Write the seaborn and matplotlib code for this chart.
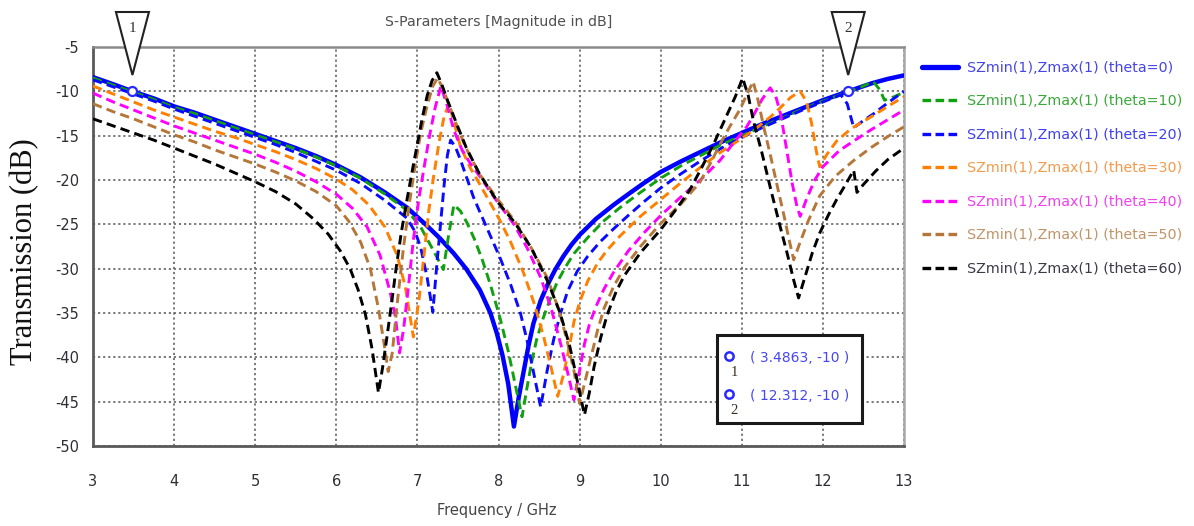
import matplotlib
matplotlib.use("Agg")
import matplotlib.pyplot as plt
import pandas as pd
import seaborn as sns
from matplotlib.patches import Polygon, Rectangle
from matplotlib.lines import Line2D

# ---------------- data: |S21| (dB) versus frequency (GHz) ----------------
thetas = [0, 10, 20, 30, 40, 50, 60]

freq_t0 = [3.0, 3.25, 3.4863, 3.75, 4.0, 4.25, 4.5, 4.75, 5.0, 5.25, 5.5, 5.75, 6.0, 6.3, 6.6, 6.87,
           7.1, 7.28, 7.45, 7.6, 7.77, 7.9, 7.98, 8.05, 8.12, 8.19, 8.25, 8.31, 8.37, 8.43, 8.52,
           8.6, 8.7, 8.8, 8.9, 9.0, 9.2, 9.42, 9.6, 9.8, 10.0, 10.25, 10.5, 10.75, 11.0, 11.25,
           11.5, 11.75, 12.0, 12.312, 12.6, 12.8, 13.0]
db_t0 = [-8.4, -9.2, -10.0, -10.8, -11.7, -12.4, -13.2, -14.0, -14.8, -15.6, -16.4, -17.3, -18.3,
         -19.7, -21.4, -23.1, -25.0, -26.6, -28.3, -30.0, -32.4, -35.0, -37.3, -39.8, -43.0, -47.8,
         -44.5, -41.6, -38.7, -36.2, -33.6, -31.9, -30.1, -28.6, -27.3, -26.2, -24.4, -22.8, -21.6,
         -20.3, -19.1, -17.9, -16.8, -15.7, -14.7, -13.7, -12.8, -11.9, -11.0, -10.0, -9.1, -8.6,
         -8.2]

freq_t10 = [3.0, 3.25, 3.5, 3.75, 4.0, 4.25, 4.5, 4.75, 5.0, 5.25, 5.5, 5.75, 6.0, 6.3, 6.6, 6.87,
            7.04, 7.2, 7.32, 7.38, 7.45, 7.53, 7.61, 7.7, 7.8, 7.9, 8.02, 8.12, 8.2, 8.29, 8.35,
            8.41, 8.47, 8.55, 8.63, 8.72, 8.82, 8.93, 9.1, 9.3, 9.5, 9.75, 10.0, 10.25, 10.5, 10.75,
            11.0, 11.25, 11.5, 11.75, 12.0, 12.3, 12.5, 12.62, 12.7, 12.76, 12.88, 13.0]
db_t10 = [-8.5, -9.3, -10.1, -10.9, -11.8, -12.5, -13.3, -14.1, -14.9, -15.7, -16.5, -17.4, -18.4,
          -19.8, -21.6, -23.4, -25.3, -28.0, -30.1, -26.5, -22.8, -23.5, -24.8, -26.6, -29.0, -31.8,
          -35.6, -39.3, -42.8, -46.7, -43.5, -40.5, -38.0, -35.6, -33.6, -31.6, -29.9, -28.3, -26.5,
          -24.6, -23.1, -21.4, -19.8, -18.4, -17.2, -16.0, -15.0, -14.0, -13.0, -12.0, -11.1, -10.1,
          -9.4, -8.9, -9.8, -11.0, -10.6, -10.1]

freq_t20 = [3.0, 3.25, 3.5, 3.75, 4.0, 4.25, 4.5, 4.75, 5.0, 5.25, 5.5, 5.75, 6.0, 6.3, 6.6, 6.87,
            6.97, 7.04, 7.12, 7.19, 7.24, 7.28, 7.33, 7.37, 7.41, 7.47, 7.53, 7.61, 7.69, 7.77, 7.9,
            8.02, 8.15, 8.27, 8.35, 8.43, 8.52, 8.6, 8.68, 8.76, 8.85, 8.97, 9.1, 9.25, 9.42, 9.6,
            9.8, 10.0, 10.25, 10.5, 10.75, 11.0, 11.25, 11.5, 11.75, 12.0, 12.22, 12.3, 12.38, 12.5,
            12.63, 12.8, 13.0]
db_t20 = [-8.7, -9.5, -10.3, -11.1, -12.0, -12.8, -13.6, -14.4, -15.2, -16.0, -16.9, -17.9, -18.9,
          -20.4, -22.3, -24.3, -25.8, -27.6, -31.0, -34.9, -29.5, -25.5, -20.5, -17.2, -15.5, -16.3,
          -17.7, -19.8, -21.9, -23.6, -26.3, -28.8, -31.8, -35.0, -38.0, -41.6, -45.6, -41.5, -38.0,
          -35.2, -32.6, -30.3, -28.6, -27.0, -25.5, -24.0, -22.4, -20.9, -19.3, -17.8, -16.4, -15.2,
          -14.1, -13.1, -12.1, -11.2, -10.4, -11.4, -14.1, -13.3, -12.5, -11.3, -10.0]

freq_t30 = [3.0, 3.25, 3.5, 3.75, 4.0, 4.25, 4.5, 4.75, 5.0, 5.25, 5.5, 5.75, 6.0, 6.2, 6.4, 6.6,
            6.75, 6.85, 6.95, 7.02, 7.08, 7.14, 7.2, 7.27, 7.33, 7.39, 7.46, 7.53, 7.65, 7.77, 7.9,
            8.02, 8.15, 8.31, 8.45, 8.56, 8.65, 8.73, 8.8, 8.87, 8.93, 9.0, 9.1, 9.22, 9.34, 9.5,
            9.75, 10.0, 10.25, 10.5, 10.75, 11.0, 11.2, 11.35, 11.47, 11.6, 11.72, 11.8, 11.86,
            11.92, 11.96, 12.05, 12.17, 12.35, 12.59, 12.8, 13.0]
db_t30 = [-9.4, -10.3, -11.2, -12.1, -12.9, -13.7, -14.5, -15.2, -16.0, -16.8, -17.7, -18.7, -19.9,
          -21.1, -22.8, -25.3, -28.5, -32.0, -37.7, -33.5, -28.6, -23.5, -19.6, -15.6, -12.8, -11.4,
          -13.8, -16.2, -18.6, -20.5, -22.6, -24.6, -27.0, -30.5, -34.2, -37.8, -41.2, -44.4, -42.0,
          -39.0, -36.0, -33.8, -31.4, -29.4, -27.9, -26.3, -24.1, -22.2, -20.3, -18.5, -16.8, -15.3,
          -14.0, -12.9, -11.9, -10.7, -10.0, -11.2, -13.6, -16.8, -18.5, -17.1, -15.6, -14.2, -12.9,
          -11.7, -10.6]

freq_t40 = [3.0, 3.25, 3.5, 3.75, 4.0, 4.25, 4.5, 4.75, 5.0, 5.25, 5.5, 5.75, 6.0, 6.2, 6.38, 6.54,
            6.66, 6.73, 6.78, 6.83, 6.88, 6.95, 7.02, 7.08, 7.15, 7.22, 7.29, 7.37, 7.45, 7.55,
            7.65, 7.77, 7.95, 8.19, 8.35, 8.52, 8.65, 8.77, 8.86, 8.93, 8.99, 9.06, 9.12, 9.2, 9.3,
            9.42, 9.6, 9.8, 10.0, 10.25, 10.5, 10.73, 10.9, 11.06, 11.15, 11.25, 11.35, 11.42,
            11.48, 11.55, 11.62, 11.68, 11.72, 11.8, 11.9, 12.0, 12.2, 12.38, 12.6, 12.8, 13.0]
db_t40 = [-10.2, -11.2, -12.1, -13.0, -13.9, -14.7, -15.5, -16.3, -17.1, -18.0, -19.0, -20.2, -21.6,
          -23.2, -25.3, -28.5, -32.5, -35.5, -39.5, -36.8, -32.8, -26.8, -22.0, -18.7, -15.0, -11.8,
          -9.4, -11.7, -14.4, -16.6, -18.1, -19.6, -22.0, -25.0, -27.6, -31.0, -34.5, -38.6, -42.0,
          -44.8, -42.0, -38.5, -36.3, -34.3, -32.3, -30.4, -28.0, -25.9, -24.0, -21.9, -19.9, -17.8,
          -15.8, -14.0, -12.6, -10.9, -9.6, -10.6, -12.6, -16.4, -20.3, -23.0, -24.1, -22.1, -20.0,
          -18.5, -16.7, -15.6, -14.3, -13.2, -12.1]

freq_t50 = [3.0, 3.25, 3.5, 3.75, 4.0, 4.25, 4.5, 4.75, 5.0, 5.25, 5.5, 5.75, 6.0, 6.15, 6.3, 6.42,
            6.52, 6.59, 6.64, 6.69, 6.75, 6.83, 6.9, 6.97, 7.04, 7.12, 7.19, 7.25, 7.32, 7.4, 7.5,
            7.6, 7.77, 8.0, 8.2, 8.4, 8.6, 8.75, 8.85, 8.93, 9.0, 9.07, 9.14, 9.22, 9.3, 9.42, 9.55,
            9.75, 10.0, 10.25, 10.48, 10.62, 10.73, 10.85, 10.98, 11.06, 11.14, 11.2, 11.27, 11.36,
            11.44, 11.52, 11.58, 11.64, 11.72, 11.82, 11.96, 12.15, 12.38, 12.6, 12.8, 13.0]
db_t50 = [-11.4, -12.3, -13.1, -14.0, -14.9, -15.7, -16.6, -17.4, -18.2, -19.1, -20.1, -21.3, -22.9,
          -24.6, -27.0, -30.0, -34.5, -38.5, -41.6, -39.5, -34.0, -27.5, -22.7, -18.5, -14.7, -11.6,
          -9.4, -8.5, -9.8, -11.8, -14.2, -16.4, -19.4, -22.3, -24.6, -27.6, -31.0, -34.8, -38.3,
          -41.5, -45.2, -42.6, -40.0, -37.0, -34.5, -32.0, -29.9, -27.5, -24.9, -22.7, -20.3, -18.0,
          -16.0, -14.0, -12.0, -10.4, -8.9, -11.0, -14.0, -17.5, -20.8, -24.0, -26.6, -29.0, -27.0,
          -24.6, -21.8, -19.6, -17.8, -16.3, -15.1, -14.0]

freq_t60 = [3.0, 3.25, 3.5, 3.75, 4.0, 4.25, 4.5, 4.75, 5.0, 5.25, 5.5, 5.72, 5.9, 6.05, 6.17, 6.27,
            6.36, 6.44, 6.52, 6.57, 6.62, 6.68, 6.74, 6.8, 6.87, 6.94, 7.0, 7.06, 7.12, 7.18, 7.24,
            7.3, 7.37, 7.49, 7.6, 7.77, 8.0, 8.2, 8.4, 8.61, 8.76, 8.88, 8.97, 9.06, 9.12, 9.18,
            9.26, 9.34, 9.45, 9.55, 9.75, 10.0, 10.2, 10.36, 10.5, 10.65, 10.8, 10.92, 11.01, 11.08,
            11.14, 11.25, 11.35, 11.46, 11.56, 11.64, 11.7, 11.78, 11.87, 11.96, 12.07, 12.17,
            12.28, 12.38, 12.42, 12.5, 12.65, 12.8, 13.0]
db_t60 = [-13.1, -13.9, -14.7, -15.5, -16.4, -17.3, -18.2, -19.2, -20.2, -21.3, -22.7, -24.4, -26.1,
          -28.0, -30.0, -32.4, -35.2, -39.0, -44.0, -41.2, -38.0, -34.0, -29.8, -26.0, -22.3, -18.8,
          -15.9, -13.0, -10.5, -8.8, -7.9, -9.2, -11.0, -13.8, -16.3, -19.4, -22.6, -24.8, -27.6,
          -31.5, -35.0, -38.8, -42.6, -46.5, -44.0, -41.0, -37.8, -35.2, -32.6, -30.8, -28.2, -25.6,
          -23.2, -21.1, -18.7, -16.0, -13.0, -10.6, -8.5, -10.5, -13.2, -17.0, -20.8, -24.8, -28.3,
          -31.3, -33.3, -30.9, -28.2, -26.0, -23.9, -22.2, -20.5, -18.9, -21.4, -20.5, -19.0, -17.7,
          -16.4]

marker_ids = ["1", "2"]
marker_freq = [3.4863, 12.312]
marker_db = [-10, -10]

x_ticks = [3, 4, 5, 6, 7, 8, 9, 10, 11, 12, 13]
y_ticks = [-5, -10, -15, -20, -25, -30, -35, -40, -45, -50]

series_freq = [freq_t0, freq_t10, freq_t20, freq_t30, freq_t40, freq_t50, freq_t60]
series_db = [db_t0, db_t10, db_t20, db_t30, db_t40, db_t50, db_t60]

frames = []
for th, f, d in zip(thetas, series_freq, series_db):
    frames.append(pd.DataFrame({"freq": f, "db": d, "theta": th}))
df = pd.concat(frames, ignore_index=True)

# ---------------- styling ----------------
sns.set_style("white")
plt.rcParams["font.family"] = ["DejaVu Sans"]
plt.rcParams["axes.unicode_minus"] = False

line_colors = ["#0000ff", "#10a010", "#0a0aff", "#ff7f00", "#ff00ff", "#b5763a", "#000000"]
text_colors = ["#4545e8", "#3aa83a", "#4040f0", "#f39a4a", "#f040f0", "#c09468", "#3a3a48"]

W, H = 1194, 526
fig = plt.figure(figsize=(W / 100, H / 100), dpi=100)
ax_l, ax_r, ax_t, ax_b = 93, 904, 47, 446
ax = fig.add_axes([ax_l / W, (H - ax_b) / H, (ax_r - ax_l) / W, (ax_b - ax_t) / H])


def fig_xy(px, py):
    return px / W, 1 - py / H


handles = []
for i, th in enumerate(thetas):
    sub = df[df["theta"] == th]
    solid = (th == 0)
    lw = 3.2 if solid else 2.1
    sns.lineplot(data=sub, x="freq", y="db", ax=ax, color=line_colors[i], lw=lw,
                 sort=False, estimator=None, legend=False, zorder=3 + i)
    ln = ax.lines[-1]
    if not solid:
        ln.set_dashes((3.2, 1.8))
    ln.set_solid_joinstyle("round")
    ln.set_dash_capstyle("butt")
    h = Line2D([], [], color=line_colors[i], lw=lw + (0.6 if solid else 0.3),
               linestyle="-" if solid else (0, (2.6, 1.3)))
    handles.append(h)

ax.set_xlim(3, 13)
ax.set_ylim(-50, -5)
ax.set_xticks(x_ticks)
ax.set_yticks(y_ticks)
ax.set_xlabel("")
ax.set_ylabel("")
ax.tick_params(axis="both", direction="out", length=5, width=1.5, color="#555555",
               labelsize=10.5, labelcolor="#2e2e36")
ax.tick_params(axis="x", pad=15)
ax.tick_params(axis="y", pad=5)

ax.grid(True, color="#6e6e6e", linestyle=(0, (1.2, 1.6)), linewidth=1.3)
ax.set_axisbelow(True)
for side, col, w in [("left", "#5a5a5a", 2.0), ("bottom", "#5a5a5a", 2.0),
                     ("top", "#8a8a8a", 1.8), ("right", "#a8a8a8", 1.8)]:
    ax.spines[side].set_visible(True)
    ax.spines[side].set_color(col)
    ax.spines[side].set_linewidth(w)

# title and axis labels
ax.text(0.5, (ax_b - 22) / (ax_b - ax_t), "S-Parameters [Magnitude in dB]",
        transform=ax.transAxes, ha="center", va="center", fontsize=10.2, color="#505050")
fig.text(*fig_xy(497, 511), "Frequency / GHz", ha="center", va="center",
         fontsize=10.5, color="#454545")
fig.text(*fig_xy(25, 252), "Transmission (dB)", ha="center", va="center", rotation=90,
         fontsize=22, family="Liberation Serif", color="#111111")

# marker points on the theta=0 trace
ax.plot(marker_freq, marker_db, linestyle="none", marker="o", ms=6.5, mfc="white",
        mec="#2a2aff", mew=1.6, zorder=20)

# marker flags above the plot area
trans = ax.get_xaxis_transform()
ah = ax_b - ax_t
half_w = 16.5 / ((ax_r - ax_l) / 10.0)
for mid, mf in zip(marker_ids, marker_freq):
    tri = Polygon([[mf - half_w, (ax_b - 12) / ah], [mf + half_w, (ax_b - 12) / ah],
                   [mf, (ax_b - 75) / ah]], closed=True, transform=trans, clip_on=False,
                  facecolor="white", edgecolor="#222222", lw=1.5, zorder=25)
    ax.add_patch(tri)
    ax.text(mf, (ax_b - 29) / ah, mid, transform=trans, ha="center", va="center",
            fontsize=11, family="Liberation Serif", color="#333333", zorder=26, clip_on=False)

# marker readout box
bx0, by0, bx1, by1 = 717, 335, 862, 423
x0, y0 = fig_xy(bx0, by1)
x1, y1 = fig_xy(bx1, by0)
box = Rectangle((x0, y0), x1 - x0, y1 - y0, transform=fig.transFigure, facecolor="white",
                edgecolor="#1a1a1a", lw=2.2, zorder=30, clip_on=False)
ax.add_patch(box)
row_y = [358, 396]
for mid, mf, md, ry in zip(marker_ids, marker_freq, marker_db, row_y):
    mx, my = fig_xy(729, ry - 2)
    ax.add_line(Line2D([mx], [my], transform=fig.transFigure, marker="o", ms=6, mfc="white",
                       mec="#2a2aff", mew=1.8, zorder=31, clip_on=False))
    sx, sy = fig_xy(734, ry + 14)
    fig.text(sx, sy, mid, ha="center", va="center", fontsize=10.5, color="#3a3020",
             family="Liberation Serif", zorder=32)
    tx, ty = fig_xy(750, ry)
    fig.text(tx, ty, f"( {mf:.5g}, {md:.0f} )", ha="left", va="center", fontsize=10,
             color="#4646f5", zorder=32)

# legend outside on the right
labels = [f"SZmin(1),Zmax(1) (theta={t})" for t in thetas]
leg = fig.legend(handles, labels, loc="upper left", bbox_to_anchor=fig_xy(922, 61),
                 frameon=False, fontsize=10.3, handlelength=2.55, handletextpad=0.62,
                 labelspacing=1.36, borderpad=0, borderaxespad=0, labelcolor=text_colors)

fig.savefig("out.png", dpi=100)
